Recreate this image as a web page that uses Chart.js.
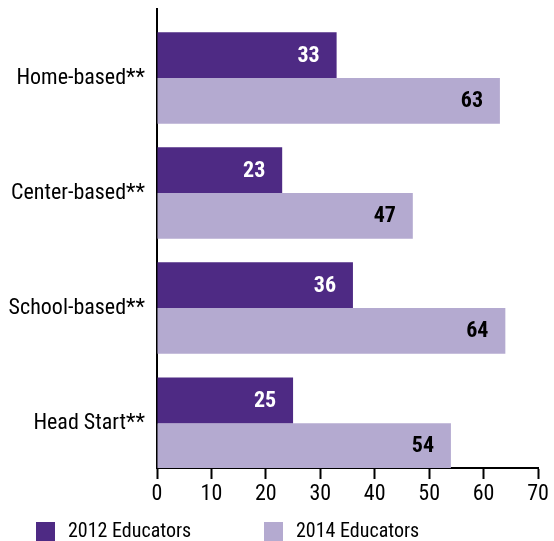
<!DOCTYPE html>
<html>
<head>
<meta charset="utf-8">
<script src="https://cdn.jsdelivr.net/npm/chart.js@4"></script>
<style>
  html, body { margin: 0; padding: 0; background: #fff; }
  #wrap { width: 554px; height: 541px; position: relative; }
</style>
</head>
<body>
<div id="wrap"><canvas id="chart"></canvas></div>
<script>
const categories = ['Home-based**', 'Center-based**', 'School-based**', 'Head Start**'];
const educators2012 = [33, 23, 36, 25];
const educators2014 = [63, 47, 64, 54];
const seriesNames = ['2012 Educators', '2014 Educators'];
const xTicks = [0, 10, 20, 30, 40, 50, 60, 70];

const FONT = "'Liberation Sans Narrow', 'Roboto Condensed', 'Liberation Sans', sans-serif";
const dark = '#4e2a84';
const light = '#b4aad0';

// bars sit on a numeric index axis so the group can touch the x axis like the original
const toPoints = (arr) => arr.map((v, i) => ({ x: v, y: i }));

// value labels drawn inside the end of each bar
const barLabels = {
    id: 'barLabels',
    afterDatasetsDraw(chart) {
        const ctx = chart.ctx;
        ctx.save();
        ctx.font = 'bold 22px ' + FONT;
        ctx.textAlign = 'center';
        ctx.textBaseline = 'middle';
        chart.data.datasets.forEach((ds, i) => {
            const meta = chart.getDatasetMeta(i);
            ctx.fillStyle = i === 0 ? '#fff' : '#000';
            meta.data.forEach((bar, j) => {
                ctx.fillText(ds.data[j].x, bar.x - 28, bar.y + 1);
            });
        });
        ctx.restore();
    }
};

// legend at bottom-left
const bottomLegend = {
    id: 'bottomLegend',
    afterDraw(chart) {
        const ctx = chart.ctx;
        const xs = [36, 264];
        ctx.save();
        ctx.font = '20px ' + FONT;
        ctx.textBaseline = 'middle';
        chart.data.datasets.forEach((ds, i) => {
            ctx.fillStyle = ds.backgroundColor;
            ctx.fillRect(xs[i], 522, 19, 19);
            ctx.fillStyle = '#000';
            ctx.fillText(ds.label, xs[i] + 32, 532);
        });
        ctx.restore();
    }
};

new Chart(document.getElementById('chart'), {
    type: 'bar',
    data: {
        datasets: [
            { label: seriesNames[0], data: toPoints(educators2012), backgroundColor: dark },
            { label: seriesNames[1], data: toPoints(educators2014), backgroundColor: light }
        ]
    },
    options: {
        indexAxis: 'y',
        responsive: true,
        maintainAspectRatio: false,
        animation: false,
        categoryPercentage: 0.795,
        barPercentage: 1,
        layout: { padding: { top: 9, right: 16, bottom: 35, left: 0 } },
        plugins: {
            legend: { display: false },
            tooltip: { enabled: false }
        },
        scales: {
            x: {
                type: 'linear',
                min: 0,
                max: 70,
                afterBuildTicks: (scale) => { scale.ticks = xTicks.map(v => ({ value: v })); },
                afterFit: (scale) => { scale.height = 38; },
                border: { color: '#000', width: 2 },
                grid: { drawOnChartArea: false, drawTicks: true, tickLength: 11, tickColor: '#000', tickWidth: 2 },
                ticks: { color: '#000', font: { family: FONT, size: 22 }, padding: 2, maxRotation: 0 }
            },
            y: {
                type: 'linear',
                reverse: true,
                offset: false,
                min: -0.6,
                max: 3.39,
                afterBuildTicks: (scale) => { scale.ticks = categories.map((c, i) => ({ value: i })); },
                afterFit: (scale) => {
                    scale.width = 157;
                    scale.paddingTop = 0;
                    scale.paddingBottom = 0;
                },
                border: { color: '#000', width: 2 },
                grid: { display: false, offset: false },
                ticks: {
                    color: '#000',
                    font: { family: FONT, size: 22 },
                    padding: 4,
                    callback: (v) => categories[v]
                }
            }
        }
    },
    plugins: [barLabels, bottomLegend]
});
</script>
</body>
</html>
